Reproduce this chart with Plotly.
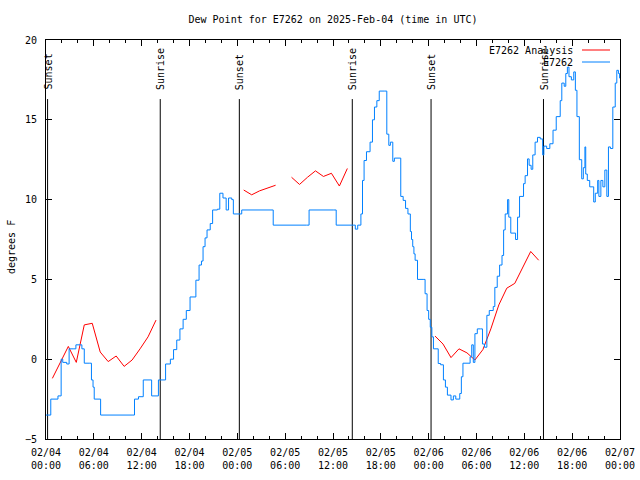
import datetime as dt
import plotly.graph_objects as go

BASE = dt.datetime(2025, 2, 4)

# Observations (E7262): hours since 02/04 00:00 UTC, dew point (F), step-held values
obs_hours = [0.0, 0.6, 1.5, 1.9, 2.1, 2.6, 2.9, 3.5, 3.75, 4.3, 4.5, 4.8, 5.5, 5.7, 5.9, 6.05, 6.85,
             10.8, 11.1, 11.6, 12.2, 13.25, 14.1, 15.0, 15.6, 16.0, 16.4, 16.8, 17.2, 17.6,
             18.07, 18.8, 19.2, 19.5, 19.7, 19.95, 20.2, 20.6, 20.9, 21.5, 21.8, 22.2, 22.6, 22.9,
             23.3, 23.5, 24.55, 28.1, 28.5, 32.7, 33.0, 36.1, 36.4, 38.6, 38.8, 39.1, 39.5, 39.7,
             39.9, 40.2, 40.65, 40.95, 41.2, 41.5, 41.8, 42.5, 42.75, 43.0, 43.2, 43.5, 43.7, 44.4,
             44.5, 44.8, 45.1, 45.4, 45.7, 45.85, 46.0, 46.15, 46.3, 46.6, 47.4, 47.55, 47.8, 48.0,
             48.2, 48.4, 48.6, 49.2, 49.5, 49.85, 50.1, 50.35, 50.8, 51.1, 51.4, 51.9, 52.1, 52.3,
             53.2, 53.4, 53.6, 53.8, 54.1, 54.5, 54.75, 55.0, 55.3, 55.6, 56.1, 56.3, 56.6, 56.9,
             57.2, 57.4, 57.6, 57.9, 58.05, 58.3, 58.9, 59.15, 59.4, 59.9, 60.1, 60.4, 60.6, 60.85,
             61.06, 61.35, 61.65, 62.0, 62.3, 62.45, 62.8, 63.2, 63.6, 64.0, 64.5, 64.7, 65.0, 65.2,
             65.4, 65.6, 65.9, 66.2, 66.4, 66.6, 66.9, 67.2, 67.4, 67.6, 67.7, 67.9, 68.2, 68.5,
             68.7, 68.9, 69.2, 69.35, 69.6, 69.85, 70.1, 70.35, 70.55, 70.8, 71.1, 71.4, 71.6,
             71.8, 71.95]
obs_values = [-3.5, -2.5, -2.3, 0.0, -0.2, -0.3, 0.65, 0.65, 0.9, 0.9, 0.65, -0.25, -0.25, -1.3, -1.75, -2.5, -3.5,
              -3.5, -2.5, -2.35, -1.3, -2.3, -1.3, -0.3, 0.0, 0.6, 1.2, 1.9, 2.5, 3.05,
              3.9, 4.95, 5.9, 6.15, 7.05, 7.6, 8.1, 8.5, 9.35, 9.4, 10.4, 10.1, 9.35, 10.1,
              10.0, 9.1, 9.35, 9.35, 8.4, 8.4, 9.35, 9.35, 8.4, 8.4, 8.15, 8.4, 9.1, 11.2,
              12.45, 13.0, 13.6, 15.0, 15.8, 16.2, 16.8, 16.8, 14.1, 13.4, 13.6, 12.4, 12.6, 12.6,
              10.2, 9.95, 9.45, 9.1, 8.0, 7.5, 7.05, 6.6, 6.2, 5.0, 5.0, 4.1, 3.05, 2.5,
              2.0, 1.4, 0.65, -0.27, -0.35, -1.3, -1.75, -2.25, -2.55, -2.3, -2.5, -2.15, -1.1, -0.25,
              0.15, 0.9, -0.2, 1.6, 1.9, 1.9, 0.95, 0.75, 2.75, 3.05, 3.3, 4.5, 5.2, 5.9,
              6.5, 8.1, 9.1, 10.0, 8.9, 7.9, 7.5, 8.9, 10.2, 11.0, 11.5, 12.55, 12.15, 11.9,
              12.8, 13.6, 13.9, 13.8, 12.8, 13.35, 13.2, 13.5, 14.35, 15.2, 16.2, 17.3, 17.1, 17.9,
              18.3, 17.7, 17.5, 18.0, 16.85, 15.2, 12.5, 11.3, 12.0, 13.3, 11.6, 11.2, 10.8, 10.8,
              9.85, 10.4, 11.2, 10.2, 11.2, 10.8, 11.85, 10.2, 13.3, 13.2, 15.8, 17.3, 18.1,
              17.9, 17.6]

# Analysis (E7262 Analysis): four separate runs
ana1_hours = [0.8, 1.8, 2.8, 3.8, 4.8, 5.8, 6.8, 7.8, 8.8, 9.8, 10.8, 11.8, 12.8, 13.8]
ana1_values = [-1.2, -0.2, 0.8, -0.2, 2.15, 2.25, 0.45, -0.15, 0.2, -0.45, -0.05, 0.65, 1.4, 2.45]
ana2_hours = [24.8, 25.8, 26.8, 27.8, 28.8]
ana2_values = [10.6, 10.3, 10.55, 10.73, 10.9]
ana3_hours = [30.8, 31.8, 32.8, 33.8, 34.8, 35.8, 36.8, 37.8]
ana3_values = [11.4, 10.95, 11.4, 11.8, 11.45, 11.65, 10.85, 11.95]
ana4_hours = [48.8, 49.8, 50.8, 51.8, 52.8, 53.8, 54.8, 55.8, 56.8, 57.8, 58.8, 59.8, 60.8, 61.8]
ana4_values = [1.45, 0.95, 0.1, 0.65, 0.4, -0.05, 0.6, 1.9, 3.4, 4.45, 4.75, 5.7, 6.75, 6.2]

# Sun events
sun_hours = [0.2, 14.33, 24.25, 38.42, 48.3, 62.4]
sun_labels = ["Sunset", "Sunrise", "Sunset", "Sunrise", "Sunset", "Sunrise"]
sun_line_top = 16.3
sun_text_y = 16.75

Y_MIN, Y_MAX = -5, 20
FONT = "DejaVu Sans Mono"


def t(h):
    return BASE + dt.timedelta(hours=h)


ana_x, ana_y = [], []
for hs, vs in [(ana1_hours, ana1_values), (ana2_hours, ana2_values),
               (ana3_hours, ana3_values), (ana4_hours, ana4_values)]:
    ana_x += [t(h) for h in hs] + [None]
    ana_y += list(vs) + [None]

fig = go.Figure()

# sunrise / sunset vertical lines
for h, lab in zip(sun_hours, sun_labels):
    fig.add_trace(go.Scatter(x=[t(h), t(h)], y=[Y_MIN, sun_line_top], mode="lines",
                             line=dict(color="black", width=1), showlegend=False,
                             hoverinfo="skip"))
    fig.add_annotation(x=t(h), y=sun_text_y, text=lab, textangle=-90, showarrow=False,
                       xanchor="center", yanchor="bottom", xshift=1,
                       font=dict(family=FONT, size=10, color="black"))

fig.add_trace(go.Scatter(x=ana_x, y=ana_y, mode="lines", name="E7262 Analysis",
                         line=dict(color="#ff0000", width=1), connectgaps=False,
                         showlegend=False))
fig.add_trace(go.Scatter(x=[t(h) for h in obs_hours], y=obs_values, mode="lines",
                         name="E7262", line=dict(color="#0080ff", width=1, shape="hv"),
                         showlegend=False))

# legend drawn gnuplot-style (text then sample line)
L, R, T, B = 46, 20, 40, 41
PW, PH = 640 - L - R, 480 - T - B
def px(x):
    return (x - L) / PW
def py(y):
    return (480 - B - y) / PH

for lab, col, ypix in [("E7262 Analysis", "#ff0000", 50), ("E7262", "#0080ff", 62)]:
    fig.add_annotation(xref="paper", yref="paper", x=px(575), y=py(ypix), text=lab,
                       showarrow=False, xanchor="right", yanchor="middle",
                       font=dict(family=FONT, size=10, color="black"))
    fig.add_shape(type="line", xref="paper", yref="paper", x0=px(582), x1=px(610),
                  y0=py(ypix), y1=py(ypix), line=dict(color=col, width=1))

fig.add_annotation(xref="paper", yref="paper", x=0, xshift=-35, y=py(247),
                   text="degrees F", textangle=-90, showarrow=False,
                   xanchor="center", yanchor="middle",
                   font=dict(family=FONT, size=10, color="black"))

fig.update_layout(
    width=640, height=480, autosize=False,
    margin=dict(l=L, r=R, t=T, b=B, pad=0, autoexpand=False),
    paper_bgcolor="white", plot_bgcolor="white",
    title=dict(text="Dew Point for E7262 on 2025-Feb-04 (time in UTC)", xref="paper",
               x=px(333), xanchor="center", yref="container", y=1 - 19 / 480,
               yanchor="middle", font=dict(family=FONT, size=10, color="black")),
    font=dict(family=FONT, size=10, color="black"),
    showlegend=False,
)
fig.update_xaxes(range=[t(0), t(72)], tickmode="linear", tick0=t(0), dtick=6 * 3600 * 1000,
                 tickformat="%m/%d<br>%H:%M", ticks="inside", ticklen=6, tickcolor="black",
                 showline=True, linecolor="black", linewidth=1, mirror="ticks",
                 showgrid=False, zeroline=False, automargin=False, ticklabelstandoff=4,
                 minor=dict(dtick=2 * 3600 * 1000, ticks="inside", ticklen=3, tickcolor="black",
                            showgrid=False),
                 tickfont=dict(family=FONT, size=10, color="black"))
fig.update_yaxes(range=[Y_MIN, Y_MAX], tickmode="linear", tick0=-5, dtick=5,
                 ticks="inside", ticklen=6, tickcolor="black",
                 showline=True, linecolor="black", linewidth=1, mirror="ticks",
                 showgrid=False, zeroline=False, automargin=False, ticklabelstandoff=6,
                 tickfont=dict(family=FONT, size=10, color="black"))

fig.write_html("out.html", config={"displayModeBar": False},
               post_script="document.body.style.margin='0';document.body.style.overflow='hidden';")
